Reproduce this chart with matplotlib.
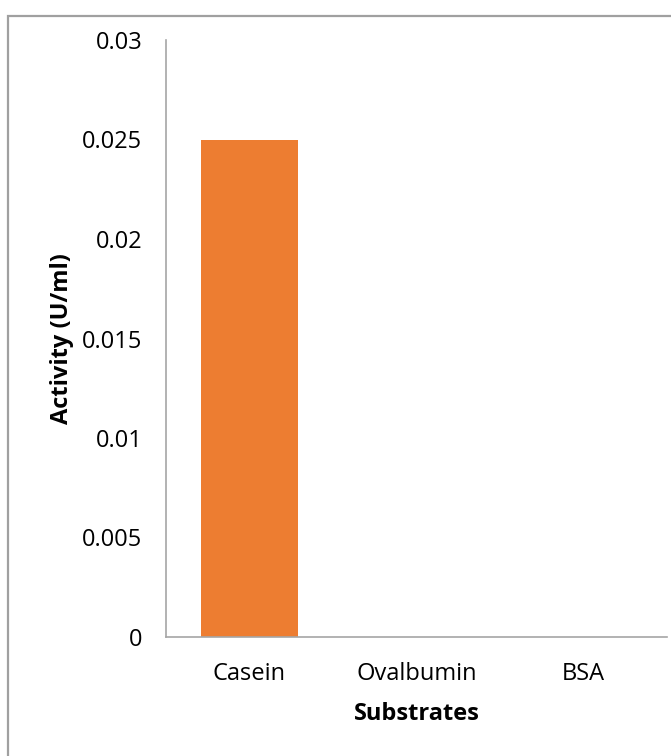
import matplotlib
matplotlib.use('Agg')
import matplotlib.pyplot as plt
from matplotlib.patches import Rectangle

substrates = ['Casein', 'Ovalbumin', 'BSA']
activity = [0.025, 0.0, 0.0]
yticks = [0, 0.005, 0.01, 0.015, 0.02, 0.025, 0.03]
ytick_labels = ['0', '0.005', '0.01', '0.015', '0.02', '0.025', '0.03']

plt.rcParams['font.family'] = ['Open Sans', 'DejaVu Sans']

fig = plt.figure(figsize=(6.71, 7.56), dpi=100)
ax = fig.add_axes([166/671, 1-637/756, 501/671, 597/756])

x = range(len(substrates))
ax.bar(x, activity, width=0.575, color='#ED7D31')

ax.set_xlim(-0.5, 2.5)
ax.set_ylim(0, 0.03)
ax.set_xticks(list(x))
ax.set_xticklabels(substrates)
ax.set_yticks(yticks)
ax.set_yticklabels(ytick_labels)
ax.tick_params(axis='both', length=0, labelsize=17)
ax.tick_params(axis='y', pad=17)
ax.tick_params(axis='x', pad=18)

for s in ['top', 'right']:
    ax.spines[s].set_visible(False)
for s in ['left', 'bottom']:
    ax.spines[s].set_color('#A6A6A6')
    ax.spines[s].set_linewidth(1.2)

ax.set_ylabel('Activity (U/ml)', fontsize=17, fontweight='bold')
ax.set_xlabel('Substrates', fontsize=17, fontweight='bold')
ax.yaxis.set_label_coords((74-166)/501, 0.5)
ax.xaxis.set_label_coords(0.5, (637-702)/597)

# outer chart border (only left and top visible in the crop)
fig.patches.append(Rectangle((8/671, -0.1), 1.2, 1.0894 - 8/756, transform=fig.transFigure,
                             fill=False, edgecolor='#A0A0A0', linewidth=1.6))

fig.savefig('out.png', dpi=100)
